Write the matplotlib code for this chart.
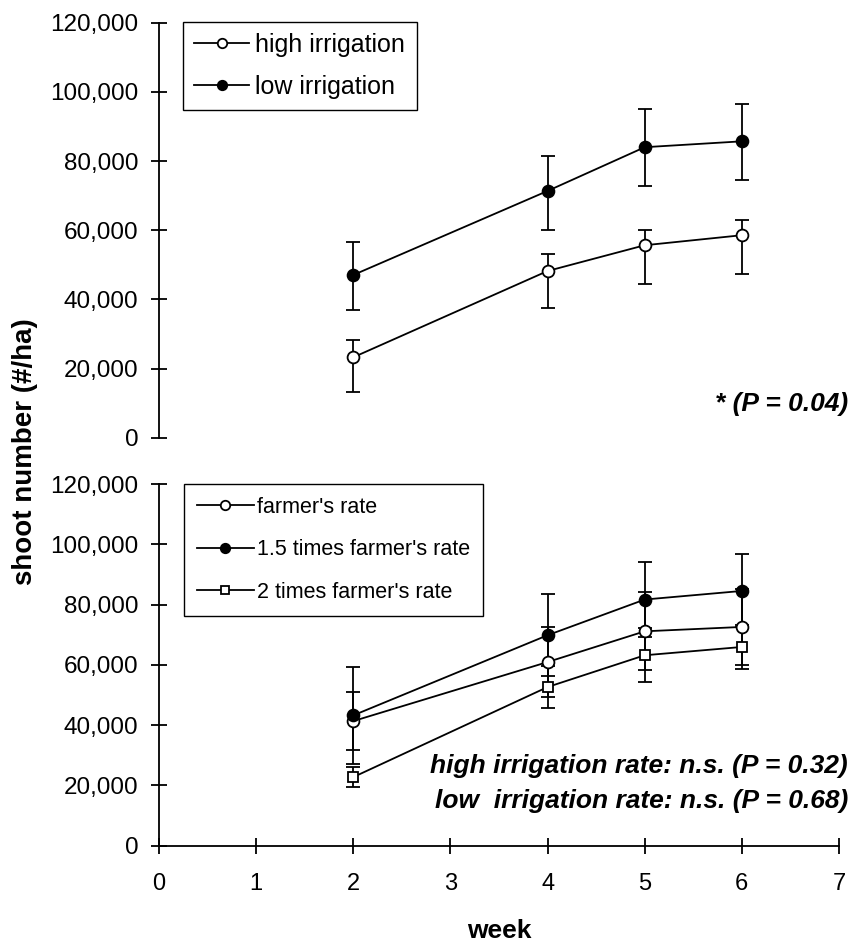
import numpy as np
import matplotlib
matplotlib.use("Agg")
import matplotlib.pyplot as plt
from matplotlib.ticker import FuncFormatter

plt.rcParams['font.family'] = ['Liberation Sans', 'DejaVu Sans']

weeks = [2, 4, 5, 6]

# top panel: irrigation
high_irr = [23250, 48200, 55650, 58550]
high_irr_lo = [13150, 37400, 44350, 47350]
high_irr_hi = [28150, 53050, 60050, 62950]
low_irr = [47050, 71350, 84000, 85700]
low_irr_lo = [36850, 60050, 72800, 74450]
low_irr_hi = [56600, 81450, 95050, 96600]

# bottom panel: planting rate
farmer = [41300, 60900, 71100, 72550]
farmer_err = [9600, 11650, 12900, 12750]
rate15 = [43200, 69800, 81650, 84500]
rate15_err = [16000, 13600, 12300, 12100]
rate2 = [22700, 52600, 63150, 65900]
rate2_err = [3300, 6850, 8900, 7400]

yticks = [0, 20000, 40000, 60000, 80000, 100000, 120000]
xticks = [0, 1, 2, 3, 4, 5, 6, 7]

fig = plt.figure(figsize=(8.54, 9.47), dpi=100)
ax1 = fig.add_axes([159/854, 1-437.7/947, 680/854, 415/947])
ax2 = fig.add_axes([159/854, 1-845.5/947, 680/854, 361.5/947])

fmt = FuncFormatter(lambda v, p: f"{int(v):,}")
lw = 1.3
ms = 8.5
cap = 5

def series(ax, y, lo, hi, marker, face, label):
    y = np.array(y)
    err = [y - np.array(lo), np.array(hi) - y]
    ax.errorbar(weeks, y, yerr=err, fmt='none', ecolor='black', elinewidth=lw,
                capsize=cap, capthick=lw, zorder=2)
    ax.plot(weeks, y, color='black', lw=lw, marker=marker, ms=ms,
            mfc=face, mec='black', mew=lw, label=label, zorder=3)

series(ax1, high_irr, high_irr_lo, high_irr_hi, 'o', 'white', 'high irrigation')
series(ax1, low_irr, low_irr_lo, low_irr_hi, 'o', 'black', 'low irrigation')

for y, e, m, f, lab, s in [(farmer, farmer_err, 'o', 'white', "farmer's rate", ms),
                            (rate15, rate15_err, 'o', 'black', "1.5 times farmer's rate", ms),
                            (rate2, rate2_err, 's', 'white', "2 times farmer's rate", 7.5)]:
    y = np.array(y)
    ax2.errorbar(weeks, y, yerr=e, fmt='none', ecolor='black', elinewidth=lw,
                 capsize=cap, capthick=lw, zorder=2)
    ax2.plot(weeks, y, color='black', lw=lw, marker=m, ms=s,
             mfc=f, mec='black', mew=lw, label=lab, zorder=3)

for ax in (ax1, ax2):
    ax.set_xlim(0, 7)
    ax.set_ylim(0, 120000)
    ax.set_yticks(yticks)
    ax.yaxis.set_major_formatter(fmt)
    ax.spines['top'].set_visible(False)
    ax.spines['right'].set_visible(False)
    ax.spines['left'].set_linewidth(1.3)
    ax.spines['bottom'].set_linewidth(1.3)
    ax.tick_params(axis='y', direction='inout', length=11.5, width=1.3,
                   labelsize=17.5, pad=9)
    ax.patch.set_alpha(0)

ax1.spines['bottom'].set_visible(False)
ax1.set_xticks([])
ax2.set_xticks(xticks)
ax2.tick_params(axis='x', direction='inout', length=11.5, width=1.3,
                labelsize=17, pad=14)

fig.text(499/854, 1-931/947, 'week', ha='center', va='center',
         fontsize=19, fontweight='bold')
fig.text(25/854, 1-452/947, 'shoot number (#/ha)', rotation=90, ha='center',
         va='center', fontsize=20, fontweight='bold')

leg1 = ax1.legend(loc='upper left', bbox_to_anchor=(183/854, 1-22/947),
                  bbox_transform=fig.transFigure, borderaxespad=0,
                  fancybox=False, edgecolor='black', framealpha=1,
                  fontsize=18, handlelength=2.2, handletextpad=0.25,
                  labelspacing=0.7, borderpad=0.45, markerscale=0.8)
leg1.get_frame().set_linewidth(1.0)
leg2 = ax2.legend(loc='upper left', bbox_to_anchor=(184/854, 1-484/947),
                  bbox_transform=fig.transFigure, borderaxespad=0,
                  fancybox=False, edgecolor='black', framealpha=1,
                  fontsize=15.5, handlelength=2.65, handletextpad=0.15,
                  labelspacing=1.0, borderpad=0.6, markerscale=0.8)
leg2.get_frame().set_linewidth(1.0)

fig.text(848/854, 1-404/947, '* (P = 0.04)', ha='right', va='center',
         fontsize=19, fontweight='bold', style='italic')
fig.text(848/854, 1-766/947, 'high irrigation rate: n.s. (P = 0.32)', ha='right',
         va='center', fontsize=19, fontweight='bold', style='italic')
fig.text(848/854, 1-801/947, 'low  irrigation rate: n.s. (P = 0.68)', ha='right',
         va='center', fontsize=19, fontweight='bold', style='italic')

fig.savefig('out.png', dpi=100)
